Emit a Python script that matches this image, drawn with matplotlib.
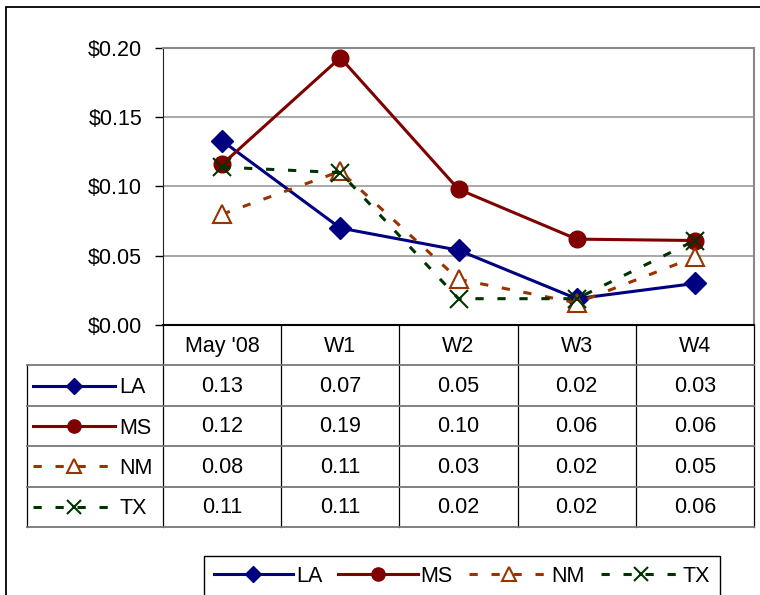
import numpy as np
import matplotlib
matplotlib.use("Agg")
import matplotlib.pyplot as plt
from matplotlib.lines import Line2D
from matplotlib.patches import Rectangle

plt.rcParams['font.family'] = ['Liberation Sans', 'DejaVu Sans']
FS = 15.5

# data
categories = ["May '08", "W1", "W2", "W3", "W4"]
series = ["LA", "MS", "NM", "TX"]
la = [0.133, 0.070, 0.054, 0.019, 0.030]
ms = [0.116, 0.193, 0.098, 0.062, 0.061]
nm = [0.080, 0.111, 0.033, 0.016, 0.049]
tx = [0.114, 0.110, 0.019, 0.019, 0.061]
yticks = [0.00, 0.05, 0.10, 0.15, 0.20]

values = {"LA": la, "MS": ms, "NM": nm, "TX": tx}
LW = 2.2
styles = {
    "LA": dict(color="#000080", ls="-", marker="D", ms=11, mfc="#000080", mec="#000080", mew=1),
    "MS": dict(color="#800000", ls="-", marker="o", ms=12, mfc="#800000", mec="#800000", mew=1),
    "NM": dict(color="#993300", ls=(0, (2.7, 4.5)), marker="^", ms=13, mfc="white", mec="#993300", mew=1.5),
    "TX": dict(color="#003300", ls=(0, (2.7, 4.5)), marker="x", ms=13, mfc="none", mec="#003300", mew=1.5),
}
# smaller markers for the keys in the table and legend
key_ms = {"LA": 8, "MS": 9.5, "NM": 10, "TX": 10}

W, H = 760, 595
fig = plt.figure(figsize=(W / 100, H / 100), dpi=100)

def px(x0, y0, x1, y1):
    return [x0 / W, 1 - y1 / H, (x1 - x0) / W, (y1 - y0) / H]

# outer chart frame
fig.patches.append(Rectangle((6 / W, -0.05), 1.0, 1 - 7 / H + 0.05, transform=fig.transFigure,
                             fill=False, edgecolor="black", lw=1.3))

ax = fig.add_axes(px(163, 48, 754, 325))
x = np.arange(len(categories))
for s in series:
    ax.plot(x, values[s], lw=LW, label=s, **styles[s])
ax.set_xlim(-0.5, len(categories) - 0.5)
ax.set_ylim(0, 0.20)
ax.set_yticks(yticks)
ax.set_yticklabels([f"${v:.2f}" for v in yticks], fontsize=FS)
ax.set_xticks([])
ax.yaxis.grid(True, color="#9a9a9a", lw=1.2)
ax.set_axisbelow(True)
ax.tick_params(axis="y", length=6, width=1, pad=9, colors="black")
for side in ("top", "right"):
    ax.spines[side].set_color("#888888")
    ax.spines[side].set_linewidth(1.5)
ax.spines["left"].set_color("#222222")
ax.spines["bottom"].set_color("black")
ax.spines["bottom"].set_linewidth(1.5)

# data table under the plot, columns aligned with the categories
unit = (754 - 163) / len(categories)
xmin = -0.5 - (163 - 27) / unit
tab = fig.add_axes(px(27, 325, 754, 527))
tab.set_xlim(xmin, len(categories) - 0.5)
tab.set_ylim(len(series) + 1, 0)
tab.axis("off")
nrow = len(series) + 1
for i in range(len(categories) + 1):
    tab.plot([i - 0.5, i - 0.5], [0, nrow], color="black", lw=0.9, clip_on=False)
tab.plot([xmin, xmin], [1, nrow], color="black", lw=0.9, clip_on=False)
for r in range(1, nrow + 1):
    tab.plot([xmin, len(categories) - 0.5], [r, r], color="#777777", lw=1.3, clip_on=False)
for j, c in enumerate(categories):
    tab.text(j, 0.52, c, ha="center", va="center", fontsize=FS)
p2d = lambda p: -0.5 + (p - 163) / unit
line_only = lambda s: {k: v for k, v in styles[s].items() if k in ("color", "ls")}
mark_only = lambda s: {k: v for k, v in styles[s].items() if k in ("marker", "mfc", "mec", "mew")}
for r, s in enumerate(series, start=1):
    for j, v in enumerate(values[s]):
        tab.text(j, r + 0.52, f"{v:.2f}", ha="center", va="center", fontsize=FS)
    tab.plot([p2d(33), p2d(115)], [r + 0.5, r + 0.5], lw=LW, clip_on=False, **line_only(s))
    tab.plot([p2d(74)], [r + 0.5], ls="none", ms=key_ms[s], clip_on=False, **mark_only(s))
    tab.text(p2d(119), r + 0.55, s, ha="left", va="center", fontsize=FS)

# bottom legend
handles = [Line2D([], [], lw=LW, ms=key_ms[s], **line_only(s), **mark_only(s)) for s in series]
leg = fig.legend(handles, series, ncol=4, loc="center", bbox_to_anchor=(462 / W, 1 - 576 / H),
                 fontsize=FS, frameon=True, fancybox=False, edgecolor="black", framealpha=1,
                 handlelength=3.7, handletextpad=0.12, columnspacing=0.75, borderpad=0.45,
                 numpoints=1)
leg.get_frame().set_linewidth(1.0)

fig.savefig("out.png", dpi=100)
